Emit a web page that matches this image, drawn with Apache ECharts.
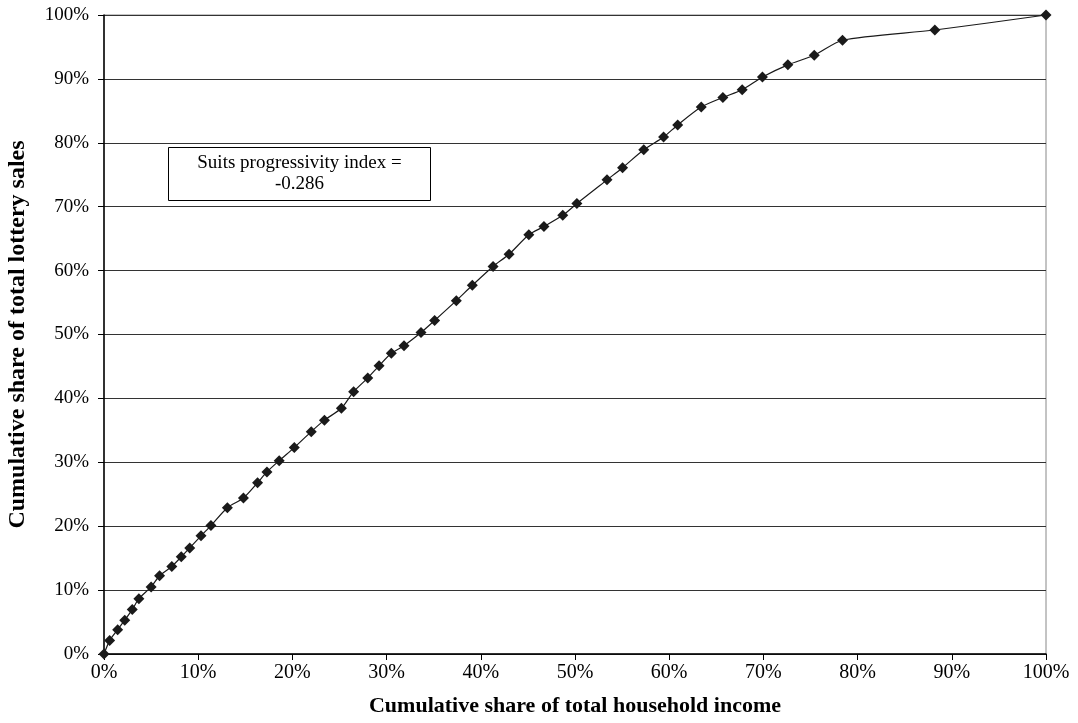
<!DOCTYPE html>
<html>
<head>
<meta charset="utf-8">
<script src="https://cdn.jsdelivr.net/npm/echarts@6/dist/echarts.min.js"></script>
<style>
html,body{margin:0;padding:0;background:#fff;}
#chart{width:1078px;height:723px;}
</style>
</head>
<body>
<div id="chart"></div>
<script>
// Cumulative share of household income (%)
const incomeShare = [0, 0.6, 1.45, 2.2, 3.0, 3.7, 5.0, 5.9, 7.2, 8.2, 9.1, 10.3, 11.35, 13.1, 14.8, 16.3, 17.3, 18.6, 20.2, 22.0, 23.4, 25.2, 26.5, 28.0, 29.2, 30.5, 31.85, 33.65, 35.1, 37.4, 39.1, 41.3, 43.0, 45.1, 46.7, 48.7, 50.2, 53.4, 55.05, 57.3, 59.4, 60.9, 63.4, 65.7, 67.75, 69.9, 72.6, 75.4, 78.4, 88.2, 100];
// Cumulative share of lottery sales (%)
const salesShare = [0, 2.1, 3.8, 5.3, 6.95, 8.65, 10.5, 12.25, 13.7, 15.2, 16.6, 18.5, 20.1, 22.9, 24.4, 26.8, 28.5, 30.25, 32.3, 34.8, 36.6, 38.45, 41.05, 43.2, 45.1, 47.06, 48.25, 50.3, 52.2, 55.3, 57.7, 60.65, 62.55, 65.6, 66.9, 68.65, 70.5, 74.2, 76.1, 78.9, 80.9, 82.8, 85.6, 87.1, 88.3, 90.3, 92.2, 93.7, 96.05, 97.65, 100];
const xTitle = 'Cumulative share of total household income';
const yTitle = 'Cumulative share of total lottery sales';
const annotationLines = ['Suits progressivity index =', '-0.286'];

const points = incomeShare.map((x, i) => [x, salesShare[i]]);
const FONT = 'Liberation Serif';

const chart = echarts.init(document.getElementById('chart'));
chart.setOption({
  animation: false,
  backgroundColor: '#fff',
  textStyle: { fontFamily: FONT, color: '#000' },
  grid: { left: 104, right: 32, top: 15, bottom: 69, show: true, borderColor: '#888', borderWidth: 1, containLabel: false, outerBoundsMode: 'none' },
  xAxis: {
    type: 'value', min: 0, max: 100, interval: 10,
    name: xTitle, nameLocation: 'middle', nameGap: 41,
    nameTextStyle: { fontFamily: FONT, fontSize: 22, fontWeight: 'bold', color: '#000' },
    axisLine: { show: true, lineStyle: { color: '#000', width: 1.5 } },
    axisTick: { show: true, inside: false, length: 6, lineStyle: { color: '#000' } },
    axisLabel: { formatter: '{value}%', fontFamily: FONT, fontSize: 20, color: '#000', margin: 9 },
    splitLine: { show: false }
  },
  yAxis: {
    type: 'value', min: 0, max: 100, interval: 10,
    name: yTitle, nameLocation: 'middle', nameGap: 74, nameRotate: 90,
    nameTextStyle: { fontFamily: FONT, fontSize: 24, fontWeight: 'bold', color: '#000' },
    axisLine: { show: true, lineStyle: { color: '#000', width: 1.5 } },
    axisTick: { show: true, inside: false, length: 6, lineStyle: { color: '#000' } },
    axisLabel: { formatter: '{value}%', fontFamily: FONT, fontSize: 19, color: '#000', margin: 15 },
    splitLine: { show: true, lineStyle: { color: '#333', width: 1 } }
  },
  series: [{
    type: 'line',
    data: points,
    smooth: 0.25,
    symbol: 'diamond',
    symbolSize: 11,
    itemStyle: { color: '#1a1a1a' },
    lineStyle: { color: '#1a1a1a', width: 1.2 },
    z: 5
  }],
  graphic: [{
    type: 'group', left: 168, top: 147,
    children: [
      { type: 'rect', shape: { x: 0, y: 0, width: 262, height: 53 }, style: { fill: '#fff', stroke: '#000', lineWidth: 1 } },
      { type: 'text', x: 131, y: 5, style: { text: annotationLines.join('\n'), align: 'center', verticalAlign: 'top', font: '19px "Liberation Serif"', fill: '#000', lineHeight: 21 } }
    ]
  }]
});
</script>
</body>
</html>
